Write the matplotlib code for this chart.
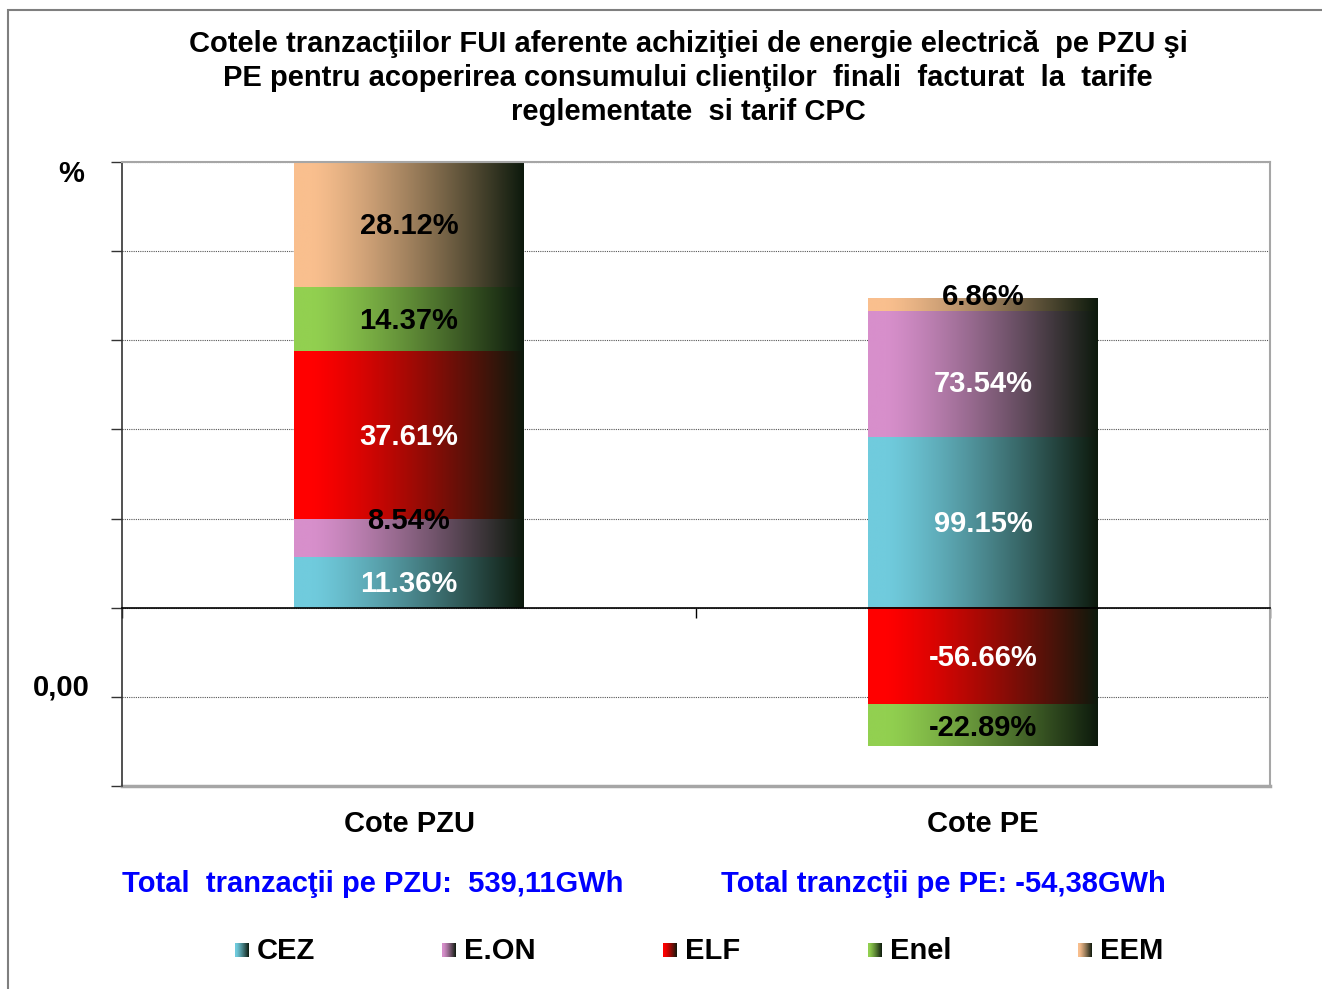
import numpy as np
import matplotlib
matplotlib.use("Agg")
import matplotlib.pyplot as plt
from matplotlib.colors import to_rgb
from matplotlib.patches import Rectangle

plt.rcParams['font.family'] = ['Liberation Sans', 'DejaVu Sans']
plt.rcParams['font.weight'] = 'bold'

# date
categorii = ['Cote PZU', 'Cote PE']
companii = ['CEZ', 'E.ON', 'ELF', 'Enel', 'EEM']
culori = ['#70cbdd', '#d78fcb', '#ff0000', '#92d050', '#f9bf8e']
cote_pzu = [11.36, 8.54, 37.61, 14.37, 28.12]
cote_pe = [99.15, 73.54, -56.66, -22.89, 6.86]
# inaltimi desenate
h_pzu = [11.36, 8.54, 37.61, 14.37, 28.12]
h_pe = [38.2, 28.4, -21.9, -9.2, 2.9]
culoare_text_pzu = ['white', 'black', 'white', 'black', 'black']
culoare_text_pe = ['white', 'white', 'white', 'black', 'black']
total_pzu = "Total  tranzacţii pe PZU:  539,11GWh"
total_pe = "Total tranzcţii pe PE: -54,38GWh"

W, H = 1322, 989
fig = plt.figure(figsize=(W / 100, H / 100), dpi=100)
FS = 21


def fx(x):
    return x / W


def fy(y):
    return 1 - y / H


# chenar exterior
fig.patches.append(Rectangle((fx(8), fy(1000)), fx(1330) - fx(8), fy(10) - fy(1000),
                             transform=fig.transFigure, fill=False,
                             edgecolor='#7f7f7f', linewidth=1.5))

ax = fig.add_axes([fx(122), fy(786), fx(1270) - fx(122), fy(162) - fy(786)])

dark = np.array([0.05, 0.10, 0.05])


def gradient(culoare):
    c = np.array(to_rgb(culoare))
    t = np.linspace(0, 1, 256)
    t = np.clip((t - 0.08) / 0.92, 0, 1) ** 1.25
    g = c[None, :] * (1 - t[:, None]) + dark[None, :] * t[:, None]
    return g[None, :, :]


latime = 0.4


def bara(x, inaltimi, cote, culori_text, ajust):
    poz, neg = 0.0, 0.0
    for i, h in enumerate(inaltimi):
        if h >= 0:
            y0, y1 = poz, poz + h
            poz = y1
        else:
            y0, y1 = neg + h, neg
            neg = y0
        ax.imshow(gradient(culori[i]), extent=[x - latime / 2, x + latime / 2, y0, y1],
                  aspect='auto', zorder=2, interpolation='bilinear')
        ax.text(x, (y0 + y1) / 2 + ajust[i] - 0.4, f"{cote[i]:.2f}%", ha='center',
                va='center', fontsize=FS, fontweight='bold', color=culori_text[i], zorder=3)


bara(0, h_pzu, cote_pzu, culoare_text_pzu, [0, 4.3, 0, 0, 0])
bara(1, h_pe, cote_pe, culoare_text_pe, [0, -1.8, 0, 0, 2.0])

ax.set_xlim(-0.5, 1.5)
ax.set_ylim(-40, 100)
ax.set_yticks(np.arange(-40, 101, 20))
ax.set_yticklabels([])
ax.tick_params(axis='y', length=8, width=1, color='#333333', direction='out')
ax.grid(axis='y', linestyle=(0, (1, 1)), color='#555555', linewidth=0.8, zorder=1)
ax.set_axisbelow(True)

ax.spines['bottom'].set_position(('data', 0))
ax.spines['bottom'].set_color('black')
ax.spines['bottom'].set_linewidth(1.2)
ax.spines['bottom'].set_zorder(4)
ax.set_xticks([-0.5, 0.5, 1.5])
ax.set_xticklabels([])
ax.tick_params(axis='x', length=7, width=1, color='black', direction='out')
ax.spines['left'].set_color('#333333')
ax.spines['left'].set_linewidth(1.2)
ax.spines['top'].set_color('#a6a6a6')
ax.spines['right'].set_color('#a6a6a6')
ax.spines['top'].set_linewidth(1.5)
ax.spines['right'].set_linewidth(1.5)
ax.axhline(-40, color='#a6a6a6', linewidth=2.5, zorder=1, clip_on=False)

titlu = ("Cotele tranzacţiilor FUI aferente achiziţiei de energie electrică  pe PZU şi\n"
         "PE pentru acoperirea consumului clienţilor  finali  facturat  la  tarife\n"
         "reglementate  si tarif CPC")
fig.text(fx(688), fy(78), titlu, ha='center', va='center', fontsize=FS,
         fontweight='bold', linespacing=1.27)

fig.text(fx(71), fy(174), '%', ha='center', va='center', fontsize=FS, fontweight='bold')
fig.text(fx(61), fy(687), '0,00', ha='center', va='center', fontsize=FS, fontweight='bold')

for i, c in enumerate(categorii):
    fig.text(fx(409 + 574 * i), fy(824), c, ha='center', va='center', fontsize=FS,
             fontweight='bold')

fig.text(fx(122), fy(884), total_pzu, ha='left', va='center', fontsize=FS,
         fontweight='bold', color='#0000ff')
fig.text(fx(721), fy(884), total_pe, ha='left', va='center', fontsize=FS,
         fontweight='bold', color='#0000ff')

# legenda
leg_x = [235, 442, 663, 868, 1078]
for i, nume in enumerate(companii):
    lax = fig.add_axes([fx(leg_x[i]), fy(957), fx(14), fy(943) - fy(957)])
    lax.imshow(gradient(culori[i]), extent=[0, 1, 0, 1], aspect='auto')
    lax.axis('off')
    fig.text(fx(leg_x[i] + 22), fy(951), nume, ha='left', va='center', fontsize=FS,
             fontweight='bold')

fig.savefig('out.png', dpi=100)
